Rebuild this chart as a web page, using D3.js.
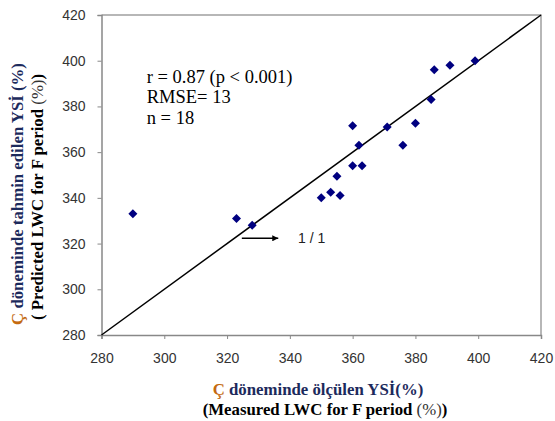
<!DOCTYPE html>
<html>
<head>
<meta charset="utf-8">
<script src="https://cdn.jsdelivr.net/npm/d3@7"></script>
<style>
  body { margin: 0; background: #fff; }
  svg { display: block; }
</style>
</head>
<body>
<div id="chart"></div>
<script>
// measured (x) vs predicted (y) LWC
const measured  = [399, 391, 386, 385, 380, 371, 360, 362, 376, 360, 363, 355, 353, 356, 350, 290, 323, 328];
const predicted = [400, 398, 396, 383, 372.6, 371, 371.5, 363, 363, 354, 354, 349.5, 342.5, 341, 340, 333, 331, 328];
const xTicks = [280, 300, 320, 340, 360, 380, 400, 420];
const yTicks = [280, 300, 320, 340, 360, 380, 400, 420];
const statLines = ["r = 0.87 (p < 0.001)", "RMSE= 13", "n = 18"];

const width = 555, height = 421;
const margin = { top: 15, right: 14, bottom: 86, left: 101.5 };
const w = width - margin.left - margin.right;
const h = height - margin.top - margin.bottom;

const svg = d3.select("#chart").append("svg")
    .attr("width", width)
    .attr("height", height);

const g = svg.append("g")
    .attr("transform", `translate(${margin.left},${margin.top})`);

const x = d3.scaleLinear().domain([280, 420]).range([0, w]);
const y = d3.scaleLinear().domain([280, 420]).range([h, 0]);

// frame top/right
g.append("path")
    .attr("d", `M0,0H${w}V${h}`)
    .attr("fill", "none")
    .attr("stroke", "#a0a0a0")
    .attr("stroke-width", 1.5);

// axes
const xAxis = g.append("g")
    .attr("transform", `translate(0,${h})`)
    .call(d3.axisBottom(x).tickValues(xTicks).tickSize(4).tickPadding(14));
const yAxis = g.append("g")
    .call(d3.axisLeft(y).tickValues(yTicks).tickSize(4).tickPadding(12));

[xAxis, yAxis].forEach(a => {
    a.selectAll(".domain").attr("stroke", "#888").attr("stroke-width", 1.5);
    a.selectAll(".tick line").attr("stroke", "#888");
    a.selectAll("text")
        .style("font-family", "Arial, 'Liberation Sans', sans-serif")
        .style("font-size", "14px")
        .style("fill", "#333");
});

// 1:1 line
g.append("line")
    .attr("x1", x(280)).attr("y1", y(280))
    .attr("x2", x(420)).attr("y2", y(420))
    .attr("stroke", "#000")
    .attr("stroke-width", 1.5);

// points
const pts = measured.map((m, i) => ({ m, p: predicted[i] }));
g.selectAll(".pt")
    .data(pts)
    .enter()
    .append("path")
    .attr("class", "pt")
    .attr("d", d3.symbol().type(d3.symbolDiamond2).size(52))
    .attr("transform", d => `translate(${x(d.m)},${y(d.p)})`)
    .attr("fill", "#000080");

// stats text
g.selectAll(".stat")
    .data(statLines)
    .enter()
    .append("text")
    .attr("class", "stat")
    .attr("x", x(294.4))
    .attr("y", (d, i) => y(390.4) + i * 20.5)
    .style("font-family", "'Liberation Serif', 'Times New Roman', serif")
    .style("font-size", "18.5px")
    .style("fill", "#000")
    .text(d => d);

// arrow + 1/1 label
svg.append("defs").append("marker")
    .attr("id", "arr")
    .attr("viewBox", "0 0 10 10")
    .attr("refX", 10).attr("refY", 5)
    .attr("markerWidth", 8).attr("markerHeight", 6)
    .attr("markerUnits", "userSpaceOnUse")
    .attr("orient", "auto")
    .append("path")
    .attr("d", "M0,0L10,5L0,10Z")
    .attr("fill", "#000");

g.append("line")
    .attr("x1", x(324.7)).attr("y1", y(322.3))
    .attr("x2", x(336.3)).attr("y2", y(322.3))
    .attr("stroke", "#000")
    .attr("stroke-width", 1.5)
    .attr("marker-end", "url(#arr)");

g.append("text")
    .attr("x", x(342.6))
    .attr("y", y(322.3) + 5)
    .style("font-family", "Arial, 'Liberation Sans', sans-serif")
    .style("font-size", "14px")
    .style("fill", "#222")
    .text("1 / 1");

// axis titles
const serif = "'Liberation Serif', 'Times New Roman', serif";
const orange = "#c46a10", navy = "#1c2a5c";

function title1(sel, rest) {
    sel.style("font-family", serif)
        .style("font-size", "16.8px")
        .style("font-weight", "bold")
        .attr("text-anchor", "middle");
    sel.append("tspan").attr("fill", orange).text("Ç");
    sel.append("tspan").attr("fill", navy).text(rest);
}
function title2(sel, a, b) {
    sel.style("font-family", serif)
        .style("font-size", "16.8px")
        .style("font-weight", "bold")
        .attr("text-anchor", "middle")
        .attr("fill", "#000");
    sel.append("tspan").text(a);
    sel.append("tspan").style("font-weight", "normal").attr("fill", "#333").text("(%)");
    sel.append("tspan").text(")");
}

const xt1 = svg.append("text").attr("x", 318).attr("y", 395);
title1(xt1, " döneminde ölçülen YSİ(%)");
const xt2 = svg.append("text").attr("x", 325).attr("y", 415);
title2(xt2, "(Measured LWC for F period ");

const yt1 = svg.append("text").attr("transform", "translate(23,194) rotate(-90)");
title1(yt1, " döneminde tahmin edilen YSİ (%)");
const yt2 = svg.append("text").attr("transform", "translate(43,197) rotate(-90)");
title2(yt2, "( Predicted LWC for F period ");
</script>
</body>
</html>
